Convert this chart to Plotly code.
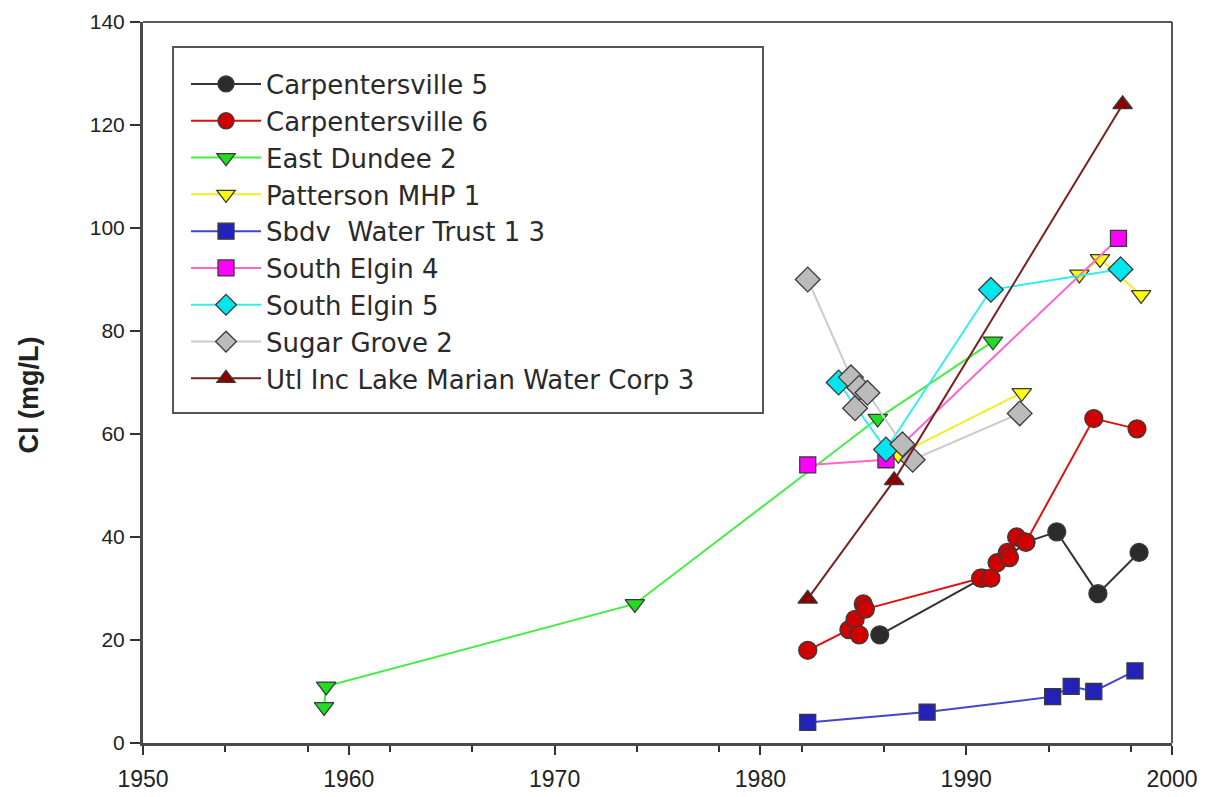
import plotly.graph_objects as go

# Chloride concentration history by well
c5_year = [1985.8, 1990.8, 1992.9, 1994.4, 1996.4, 1998.4]
c5_cl = [21, 32, 39, 41, 29, 37]

c6_year = [1982.3, 1984.3, 1984.6, 1984.8, 1985.0, 1985.1, 1990.7, 1991.2,
           1991.5, 1992.0, 1992.1, 1992.45, 1992.9, 1996.2, 1998.3]
c6_cl = [18, 22, 24, 21, 27, 26, 32, 32, 35, 37, 36, 40, 39, 63, 61]

ed2_year = [1958.8, 1958.9, 1973.9, 1985.7, 1991.3]
ed2_cl = [7, 11, 27, 63, 78]

pat_year = [1986.7, 1992.7, None, 1995.5, 1996.5, 1998.5]
pat_cl = [56, 68, None, 91, 94, 87]

sbdv_year = [1982.3, 1988.1, 1994.2, 1995.1, 1996.2, 1998.2]
sbdv_cl = [4, 6, 9, 11, 10, 14]

se4_year = [1982.3, 1986.1, 1997.4]
se4_cl = [54, 55, 98]

se5_year = [1983.8, 1986.1, 1991.2, 1997.5]
se5_cl = [70, 57, 88, 92]

sg2_year = [1982.3, 1984.4, 1984.6, 1984.8, 1985.2, 1986.9, 1987.4, 1992.6]
sg2_cl = [90, 71, 65, 69, 68, 58, 55, 64]

lm3_year = [1982.3, 1986.5, 1997.6]
lm3_cl = [28, 51, 124]

x_ticks = [1950, 1960, 1970, 1980, 1990, 2000]
y_ticks = [0, 20, 40, 60, 80, 100, 120, 140]

series = [
    ("Carpentersville 5", c5_year, c5_cl, "#333333", "#2b2b2b", "circle", 18),
    ("Carpentersville 6", c6_year, c6_cl, "#e01010", "#d00000", "circle", 18),
    ("East Dundee 2", ed2_year, ed2_cl, "#44ee44", "#22dd22", "triangle-down", 17),
    ("Patterson MHP 1", pat_year, pat_cl, "#f0f020", "#ffff00", "triangle-down", 17),
    ("Sbdv  Water Trust 1 3", sbdv_year, sbdv_cl, "#4444cc", "#2222bb", "square", 16),
    ("South Elgin 4", se4_year, se4_cl, "#ff66cc", "#ff00ff", "square", 16),
    ("South Elgin 5", se5_year, se5_cl, "#33eeee", "#00e5ee", "diamond", 19),
    ("Sugar Grove 2", sg2_year, sg2_cl, "#cccccc", "#bbbbbb", "diamond", 19),
    ("Utl Inc Lake Marian Water Corp 3", lm3_year, lm3_cl, "#7a2020", "#8b0000", "triangle-up", 17),
]

fig = go.Figure()
for name, xs, ys, lcol, mcol, sym, size in series:
    fig.add_trace(go.Scatter(
        x=xs, y=ys, name=name, mode="lines+markers",
        line=dict(color=lcol, width=2),
        marker=dict(symbol=sym, size=size, color=mcol,
                    line=dict(color="#3a3a3a", width=1.3)),
        connectgaps=False,
    ))

font_family = "Liberation Sans, Arial, sans-serif"

fig.update_layout(
    width=1206, height=797,
    margin=dict(l=143, r=34, t=22, b=54, autoexpand=False),
    paper_bgcolor="white", plot_bgcolor="white",
    showlegend=True,
    legend=dict(
        x=0.0418, y=0.9465, xanchor="left", yanchor="top",
        bgcolor="rgba(0,0,0,0)", borderwidth=0,
        font=dict(family="DejaVu Sans, sans-serif", size=26, color="#2a2a2a"),
        itemwidth=70,
        tracegroupgap=0,
    ),
    xaxis=dict(
        range=[1950, 2000], tickmode="array", tickvals=x_ticks,
        ticks="outside", ticklen=9, tickwidth=1.5, tickcolor="#333333",
        showgrid=False, zeroline=False, automargin=False,
        showline=True, linecolor="#4a4a4a", linewidth=3,
        tickfont=dict(family=font_family, size=23, color="#222222"),
        ticklabelstandoff=4,
        minor=dict(tick0=1950, dtick=4, ticks="outside", ticklen=6,
                   tickwidth=1.5, tickcolor="#333333", showgrid=False),
    ),
    yaxis=dict(
        range=[0, 140], tickmode="array", tickvals=y_ticks,
        ticks="outside", ticklen=10, tickwidth=1.5, tickcolor="#333333",
        showgrid=False, zeroline=False, automargin=False,
        showline=True, linecolor="#4a4a4a", linewidth=3,
        tickfont=dict(family=font_family, size=21, color="#222222"),
        ticklabelstandoff=1,
    ),
    shapes=[
        # top and right frame
        dict(type="line", xref="paper", yref="paper", x0=0, x1=1, y0=1, y1=1,
             line=dict(color="#222222", width=1.5)),
        dict(type="line", xref="paper", yref="paper", x0=1, x1=1, y0=0, y1=1,
             line=dict(color="#222222", width=1.5)),
        # legend box
        dict(type="rect", xref="paper", yref="paper",
             x0=0.0292, x1=0.6025, y0=0.4577, y1=0.9653,
             line=dict(color="#555555", width=2), fillcolor="rgba(0,0,0,0)",
             layer="above"),
    ],
    annotations=[
        dict(text="<b>Cl (mg/L)</b>", xref="paper", yref="paper",
             x=-0.111, y=0.483, xanchor="center", yanchor="middle",
             textangle=-90, showarrow=False,
             font=dict(family=font_family, size=27, color="#222222")),
    ],
)

fig.write_html("out.html")
